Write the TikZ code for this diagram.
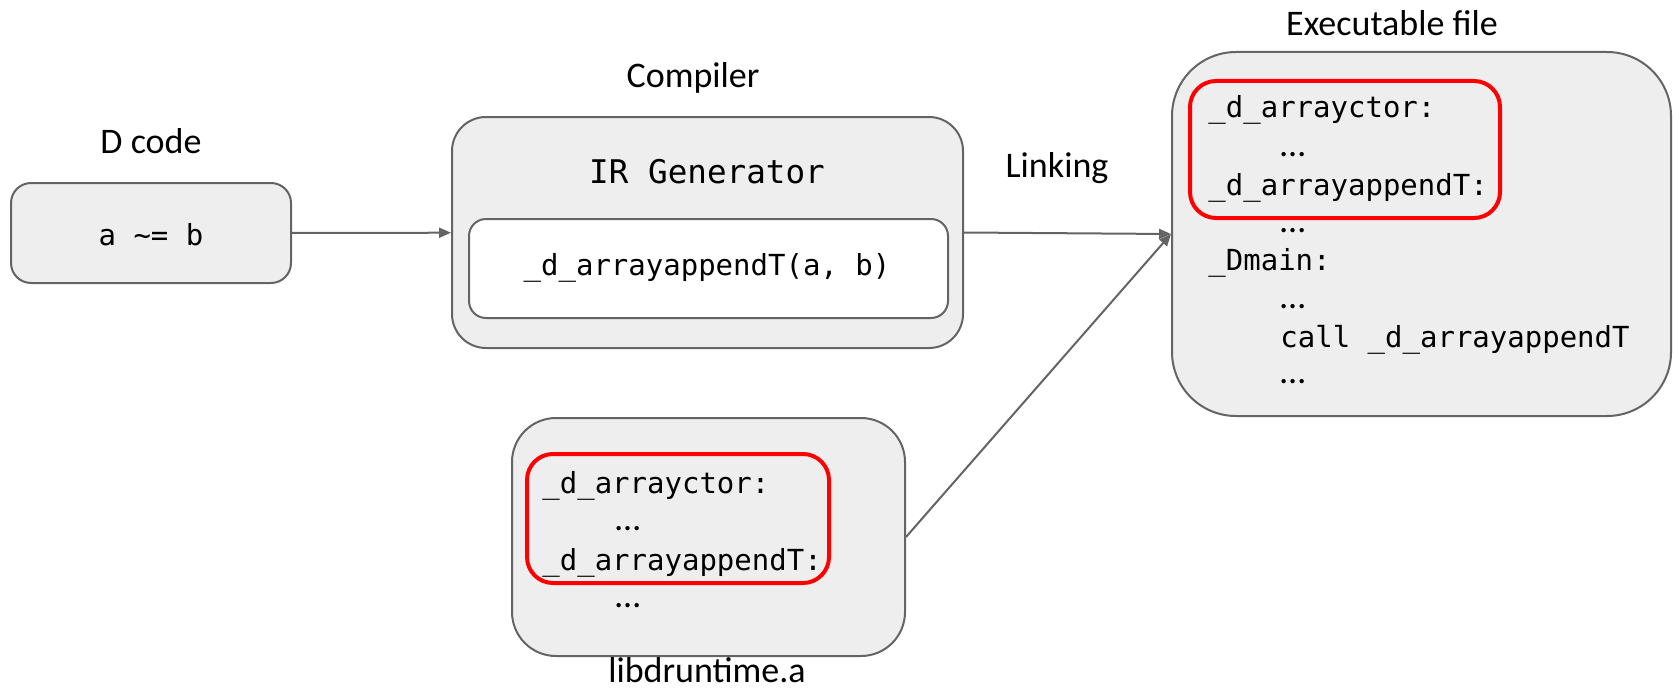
\documentclass[tikz,border=0pt]{standalone}
\usepackage{fontspec}
\setmainfont{Carlito}
\newfontfamily\codefont{DejaVu Sans Mono}
\usetikzlibrary{arrows.meta}
\definecolor{edgegray}{HTML}{646464}
\definecolor{boxgray}{HTML}{EEEEEE}
\definecolor{hotred}{HTML}{FF0000}
\newcommand{\lnode}[3]{\node [codeline] (#1) at (#2) {#3}}
\newcommand{\dnode}[2]{\node [dotline] (#1) at (#2) {…}}

\begin{document}
\begin{tikzpicture}[x=0.5pt, y=-0.5pt,
  box/.style={draw=edgegray, fill=boxgray, line width=1pt, inner sep=0pt},
  redbox/.style={draw=hotred, line width=2pt, rounded corners=13pt, inner sep=0pt},
  title/.style={anchor=base, inner sep=0pt, font=\fontsize{18}{22}\selectfont},
  code/.style={anchor=base, inner sep=0pt, font=\codefont\fontsize{14.5}{18}\selectfont},
  codeline/.style={code, anchor=base west},
  dotline/.style={anchor=base west, inner sep=0pt, font=\fontsize{18}{22}\selectfont},
  link/.style={draw=edgegray, line width=1pt, -{Triangle[length=6pt,width=5pt]}}]
\useasboundingbox (0,0) rectangle (1673,690);

% boxes
\node [box, rounded corners=10pt, minimum width=140pt, minimum height=50pt] (dcode) at (151,233) {};
\node [box, rounded corners=17pt, minimum width=255.5pt, minimum height=115.5pt] (compiler) at (707.5,232.5) {};
\node [box, fill=white, rounded corners=8.5pt, minimum width=239.5pt, minimum height=49.5pt] (irgen) at (708.5,268.5) {};
\node [box, rounded corners=32pt, minimum width=249.5pt, minimum height=182pt] (exec) at (1421.5,234) {};
\node [box, rounded corners=22pt, minimum width=196.5pt, minimum height=119pt] (lib) at (708.5,537) {};
\node [redbox, minimum width=155pt, minimum height=68.5pt] (exechot) at (1345,149.5) {};
\node [redbox, minimum width=151pt, minimum height=64.5pt] (libhot) at (678,518.5) {};

% titles
\node [title] (dcodetitle) at (151,153) {D code};
\node [title] (compilertitle) at (693,88) {Compiler};
\node [title] (linktitle) at (1057,177) {Linking};
\node [title] (exectitle) at (1392,36) {Executable file};
\node [title] (libtitle) at (707,682) {libdruntime.a};

% code
\node [code] (dcodetext) at (151,245) {a \textasciitilde= b};
\node [code, font=\codefont\fontsize{16.3}{20}\selectfont] (irgentitle) at (707,183) {IR Generator};
\node [code] (irgentext) at (707,275) {\_d\_arrayappendT(a, b)};

\lnode{exec1}{1208,118}{\_d\_arrayctor:};
\dnode{exec2}{1280,156};
\lnode{exec3}{1208,195}{\_d\_arrayappendT:};
\dnode{exec4}{1280,232};
\lnode{exec5}{1208,270}{\_Dmain:};
\dnode{exec6}{1280,308};
\lnode{exec7}{1280,347}{call \_d\_arrayappendT};
\dnode{exec8}{1280,383};

\lnode{lib1}{542,493}{\_d\_arrayctor:};
\dnode{lib2}{615,530};
\lnode{lib3}{542,570}{\_d\_arrayappendT:};
\dnode{lib4}{615,607};

% arrows
\draw [link] (dcode) -- (compiler);
\draw [link] (compiler.east) -- (exec.west);
\draw [link] (lib.east) -- (exec.west);

\end{tikzpicture}
\end{document}
